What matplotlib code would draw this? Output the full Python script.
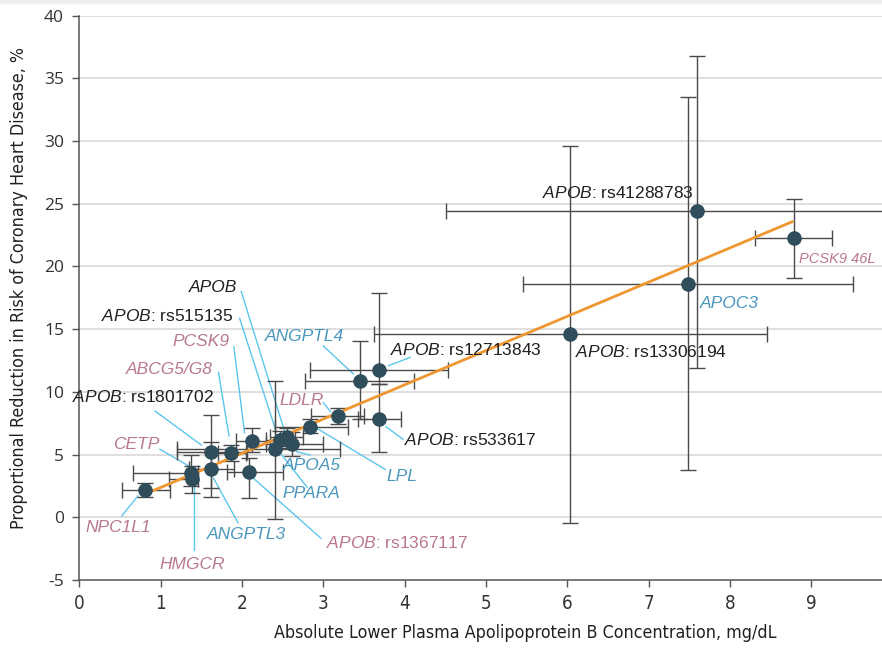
import matplotlib
matplotlib.use("Agg")
import matplotlib.pyplot as plt
from matplotlib import font_manager as fm
import numpy as np

plt.rcParams['font.family'] = ['Liberation Sans', 'DejaVu Sans']
plt.rcParams['mathtext.fontset'] = 'custom'
plt.rcParams['mathtext.it'] = 'Liberation Sans:italic'
plt.rcParams['mathtext.rm'] = 'Liberation Sans'

# condensed font for axis titles, if one is installed
_cond_path = fm.findfont(fm.FontProperties(family="DejaVu Sans", stretch="condensed"),
                         fallback_to_default=True)
if "ondensed" in _cond_path:
    AXIS_FONT = dict(family="DejaVu Sans", stretch="condensed")
    AX_FS = 12.8
else:
    AXIS_FONT = dict(family=["Roboto", "DejaVu Sans"])
    AX_FS = 12.6

# ---------------- data ----------------
names = ["NPC1L1", "CETP", "HMGCR", "APOB: rs1801702", "ANGPTL3", "ABCG5/G8", "PCSK9",
         "APOB: rs1367117", "PPARA", "APOB: rs515135", "APOB", "APOA5", "LPL", "LDLR",
         "APOB: rs533617", "ANGPTL4", "APOB: rs12713843", "APOB: rs13306194", "APOC3",
         "APOB: rs41288783", "PCSK9 46L"]
x_val = [0.81, 1.37, 1.39, 1.615, 1.615, 1.87, 2.12, 2.08, 2.40, 2.47, 2.55, 2.61, 2.83, 3.18,
         3.69, 3.45, 3.69, 6.03, 7.48, 7.60, 8.79]
y_val = [2.15, 3.50, 3.06, 5.23, 3.82, 5.10, 6.12, 3.63, 5.42, 6.16, 6.40, 5.84, 7.20, 8.07,
         7.80, 10.90, 11.74, 14.60, 18.60, 24.40, 22.30]
x_lo = [0.53, 0.66, 1.10, 1.20, 1.35, 1.70, 1.93, 1.81, 1.20, 2.30, 2.35, 2.30, 2.40, 2.85,
        3.42, 2.78, 2.84, 3.62, 5.46, 4.51, 8.31]
x_hi = [1.11, 1.46, 1.46, 2.06, 1.90, 2.05, 2.45, 2.50, 3.20, 2.65, 2.75, 3.00, 3.30, 3.50,
        3.95, 4.12, 4.53, 8.45, 9.51, 11.0, 9.25]
y_lo = [1.64, 2.50, 1.96, 2.30, 1.60, 4.50, 5.20, 1.56, -0.10, 5.50, 5.70, 4.90, 6.70, 7.40,
        5.20, 7.80, 10.60, -0.48, 3.80, 11.90, 19.10]
y_hi = [2.71, 5.00, 4.10, 8.15, 6.00, 5.80, 7.10, 4.70, 10.90, 6.90, 7.10, 6.80, 7.80, 8.70,
        10.60, 14.07, 17.90, 29.60, 33.50, 36.80, 25.40]
groups = ["p", "p", "p", "k", "b", "p", "p", "p", "b", "k", "k", "b", "b", "p",
          "k", "b", "k", "k", "b", "k", "p"]

fit_x = [0.81, 8.78]
fit_y = [1.86, 23.60]

x_ticks = list(range(0, 10))
y_ticks = list(range(-5, 41, 5))

# ---------------- layout (annotations) ----------------
label_pos = {
    "NPC1L1": (0.475, -0.85, "center"),
    "CETP": (0.99, 5.84, "right"),
    "HMGCR": (1.385, -3.8, "center"),
    "APOB: rs1801702": (1.66, 9.59, "right"),
    "ANGPTL3": (2.06, -1.4, "center"),
    "ABCG5/G8": (1.64, 11.82, "right"),
    "PCSK9": (1.85, 14.05, "right"),
    "APOB: rs1367117": (3.03, -2.05, "left"),
    "PPARA": (2.85, 1.86, "center"),
    "APOB: rs515135": (1.90, 16.05, "right"),
    "APOB": (1.94, 18.28, "right"),
    "APOA5": (2.86, 4.09, "center"),
    "LPL": (3.96, 3.29, "center"),
    "LDLR": (2.73, 9.27, "center"),
    "APOB: rs533617": (3.99, 6.2, "left"),
    "ANGPTL4": (2.77, 14.45, "center"),
    "APOB: rs12713843": (3.82, 13.3, "left"),
    "APOB: rs13306194": (6.10, 13.18, "left"),
    "APOC3": (7.63, 17.08, "left"),
    "APOB: rs41288783": (5.69, 25.84, "left"),
    "PCSK9 46L": (8.855, 20.6, "left"),
}
leaders = {
    "APOB": ((1.99, 18.0), (2.53, 6.72)),
    "APOB: rs515135": ((1.97, 15.86), (2.42, 6.82)),
    "PCSK9": ((1.90, 13.59), (2.03, 6.74)),
    "ABCG5/G8": ((1.71, 11.55), (1.84, 6.48)),
    "APOB: rs1801702": ((0.93, 8.47), (1.50, 5.76)),
    "ANGPTL4": ((3.0, 13.65), (3.37, 11.42)),
    "LDLR": ((3.0, 9.13), (3.09, 8.41)),
    "CETP": ((0.99, 5.42), (1.34, 4.11)),
    "NPC1L1": ((0.52, 0.10), (0.72, 1.70)),
    "HMGCR": ((1.41, -2.6), (1.41, 2.49)),
    "ANGPTL3": ((1.95, -0.43), (1.65, 3.11)),
    "APOB: rs1367117": ((2.97, -1.67), (2.14, 3.11)),
    "PPARA": ((2.80, 2.39), (2.49, 4.96)),
    "APOA5": ((2.84, 4.96), (2.67, 5.23)),
    "LPL": ((3.76, 3.82), (2.92, 7.09)),
    "APOB: rs533617": ((3.98, 6.22), (3.77, 7.22)),
    "APOB: rs12713843": ((4.07, 12.75), (3.80, 12.08)),
}
colors = {"p": "#b8798a", "b": "#4a97be", "k": "#231f20"}

# ---------------- figure ----------------
fig = plt.figure(figsize=(8.82, 6.53), dpi=100)
ax = fig.add_axes([79.4 / 882, 1 - 580 / 653, 1 - 79.4 / 882, (580 - 15.5) / 653])

ax.set_xlim(0, 9.87)
ax.set_ylim(-5, 40)
for yt in y_ticks[1:]:
    ax.axhline(yt, color="#dcdcdc", lw=1.3, zorder=0)

x = np.array(x_val); y = np.array(y_val)
xerr = np.array([x - np.array(x_lo), np.array(x_hi) - x])
yerr = np.array([y - np.array(y_lo), np.array(y_hi) - y])
ax.errorbar(x, y, xerr=xerr, yerr=yerr, fmt="none", ecolor="#4a4a4a", elinewidth=1.0,
            capsize=5.5, capthick=1.0, zorder=2)
ax.plot(fit_x, fit_y, color="#f0962f", lw=2.0, zorder=3, solid_capstyle="butt")
ax.plot(x, y, "o", ms=10.5, color="#2f4d5b", zorder=4, mec="none")

for n, g in zip(names, groups):
    lx, ly, ha = label_pos[n]
    if n.startswith("APOB:"):
        txt = r"$\mathit{APOB}$" + n[4:]
        style = "normal"
    else:
        txt = n
        style = "italic"
    fs = 10.5 if n == "PCSK9 46L" else 12.5
    ax.text(lx, ly, txt, ha=ha, va="center", fontsize=fs, color=colors[g],
            style=style, zorder=5, clip_on=False)
    if n in leaders:
        (x0, y0), (x1, y1) = leaders[n]
        ax.plot([x0, x1], [y0, y1], color="#5cc6ee", lw=1.0, zorder=1.5)

ax.set_xticks(x_ticks)
ax.set_yticks(y_ticks)
ax.set_yticklabels([str(v) for v in y_ticks], family=["Open Sans", "DejaVu Sans"], fontsize=12.5,
                   color="#333333")
ax.set_xticklabels([str(v) for v in x_ticks], fontsize=13.5, color="#333333", **AXIS_FONT)
ax.tick_params(axis="y", length=5, width=1, color="#555555", direction="out", pad=6)
ax.tick_params(axis="x", length=5, width=1, color="#555555", direction="out", pad=5)
for s in ["top", "right"]:
    ax.spines[s].set_visible(False)
for s in ["left", "bottom"]:
    ax.spines[s].set_color("#555555")
    ax.spines[s].set_linewidth(1.1)

ax.set_xlabel("Absolute Lower Plasma Apolipoprotein B Concentration, mg/dL", fontsize=AX_FS,
              color="#231f20", **AXIS_FONT)
ax.set_ylabel("Proportional Reduction in Risk of Coronary Heart Disease, %", fontsize=AX_FS,
              color="#231f20", **AXIS_FONT)
ax.xaxis.set_label_coords(0.556, -0.078)
ax.yaxis.set_label_coords(-0.064, 0.517)

fig.patches.append(matplotlib.patches.Rectangle((0, 1 - 3 / 653), 1, 3 / 653,
                   transform=fig.transFigure, color="#eeeeee", zorder=0))

fig.savefig("out.png", dpi=100)
